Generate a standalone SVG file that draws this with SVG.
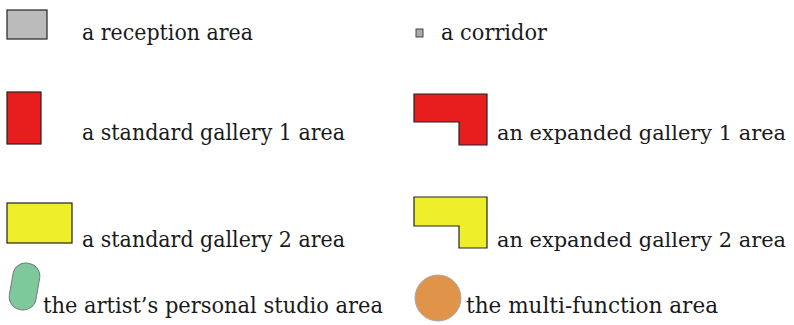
<svg xmlns="http://www.w3.org/2000/svg" width="794" height="325" viewBox="0 0 794 325">
  <style>
    .lbl { font-family: "DejaVu Serif", "Liberation Serif", serif; font-size: 22px; fill: #1a1a1a; }
    .lbl.long { font-size: 21px; }
    .edge { stroke: #222; stroke-width: 1.2; }
  </style>
  <rect width="794" height="325" fill="#ffffff"/>

  <g id="reception">
    <rect x="7" y="10" width="40" height="29" fill="#bbbbbb" class="edge" stroke-width="1.5"/>
    <text class="lbl" x="82" y="40" textLength="171" lengthAdjust="spacingAndGlyphs">a reception area</text>
  </g>

  <g id="corridor">
    <rect x="416" y="29" width="7" height="8" fill="#aaaaaa" stroke="#444" stroke-width="1"/>
    <text class="lbl" x="441" y="40" textLength="106" lengthAdjust="spacingAndGlyphs">a corridor</text>
  </g>

  <g id="gallery1-standard">
    <rect x="7" y="92" width="34" height="52" fill="#e81e1e" class="edge"/>
    <text class="lbl" x="82" y="140" textLength="263" lengthAdjust="spacingAndGlyphs">a standard gallery 1 area</text>
  </g>

  <g id="gallery1-expanded">
    <path d="M414 94 H487 V145 H459 V122 H414 Z" fill="#e81e1e" class="edge"/>
    <text class="lbl long" x="497" y="140" textLength="289" lengthAdjust="spacingAndGlyphs">an expanded gallery 1 area</text>
  </g>

  <g id="gallery2-standard">
    <rect x="7" y="203" width="65" height="40" fill="#eeee2a" class="edge"/>
    <text class="lbl" x="82" y="247" textLength="263" lengthAdjust="spacingAndGlyphs">a standard gallery 2 area</text>
  </g>

  <g id="gallery2-expanded">
    <path d="M414 197 H487 V248 H459 V226 H414 Z" fill="#eeee2a" class="edge"/>
    <text class="lbl long" x="497" y="247" textLength="289" lengthAdjust="spacingAndGlyphs">an expanded gallery 2 area</text>
  </g>

  <g id="studio">
    <rect x="11" y="263" width="27" height="47" rx="13" ry="13" fill="#7dc99b" stroke="#7a7a7a" stroke-width="1" transform="rotate(10 24.5 286.5)"/>
    <text class="lbl" x="43" y="313" textLength="340" lengthAdjust="spacingAndGlyphs">the artist’s personal studio area</text>
  </g>

  <g id="multi-function">
    <circle cx="438" cy="298" r="23" fill="#e0944a" stroke="#a8a8a8" stroke-width="1"/>
    <text class="lbl" x="466" y="313" textLength="252" lengthAdjust="spacingAndGlyphs">the multi-function area</text>
  </g>
</svg>
